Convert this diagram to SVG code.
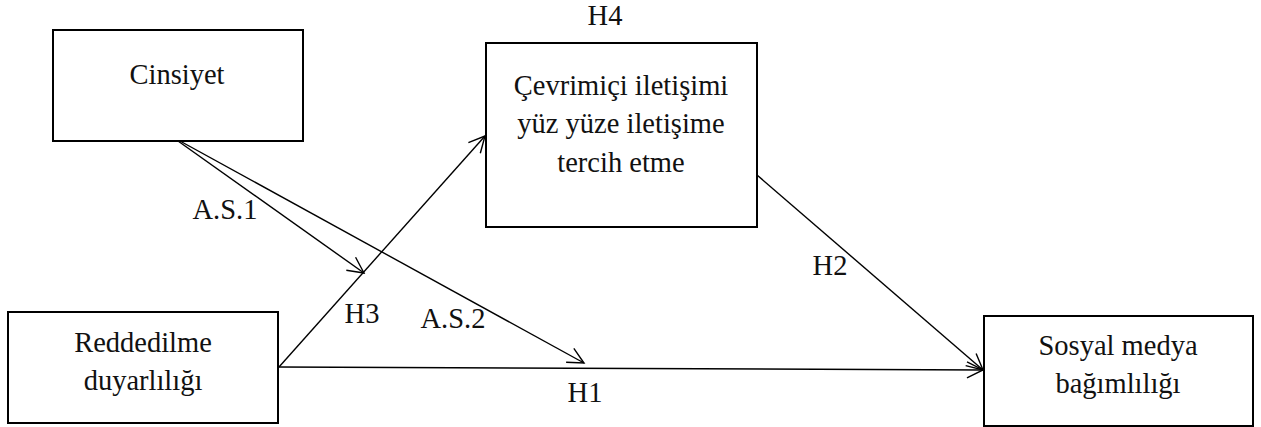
<svg xmlns="http://www.w3.org/2000/svg" width="1261" height="427" viewBox="0 0 1261 427">
  <defs>
    <style>
      .box { fill: #fff; stroke: #000; stroke-width: 2; }
      .t { font-size: 28.5px; fill: #111; text-anchor: middle; }
      .edge { fill: none; stroke: #000; stroke-width: 1.4; marker-end: url(#arr); }
    </style>
    <marker id="arr" viewBox="-18 -10 20 20" refX="0" refY="0" markerWidth="20" markerHeight="20" orient="auto" markerUnits="userSpaceOnUse">
      <path d="M-16,-8 L0,0 L-16,8" fill="none" stroke="#000" stroke-width="1.4"/>
    </marker>
  </defs>
  <rect width="1261" height="427" fill="#fff"/>

  <g id="connectors">
    <line class="edge" x1="279" y1="367" x2="485" y2="136"/>
    <line class="edge" x1="279" y1="367" x2="983" y2="370"/>
    <line class="edge" x1="757" y1="175" x2="983" y2="370"/>
    <line class="edge" x1="178" y1="141" x2="364" y2="273"/>
    <line class="edge" x1="180" y1="141" x2="584" y2="363"/>
  </g>

  <g font-family="'Liberation Serif', serif">
  <g id="labels">
    <text class="t" x="605" y="25">H4</text>
    <text class="t" x="225" y="219">A.S.1</text>
    <text class="t" x="362" y="323">H3</text>
    <text class="t" x="453" y="328">A.S.2</text>
    <text class="t" x="585" y="402">H1</text>
    <text class="t" x="830" y="275">H2</text>
  </g>

  <g id="node-cinsiyet">
    <rect class="box" x="53" y="30" width="250" height="111"/>
    <text class="t" x="177" y="84">Cinsiyet</text>
  </g>

  <g id="node-cevrimici">
    <rect class="box" x="486" y="43" width="271" height="184"/>
    <text class="t" x="621" y="95">Çevrimiçi iletişimi</text>
    <text class="t" x="621" y="133">yüz yüze iletişime</text>
    <text class="t" x="621" y="172">tercih etme</text>
  </g>

  <g id="node-reddedilme">
    <rect class="box" x="8" y="312" width="270" height="111"/>
    <text class="t" x="143" y="352">Reddedilme</text>
    <text class="t" x="143" y="390">duyarlılığı</text>
  </g>

  <g id="node-sosyal">
    <rect class="box" x="984" y="316" width="269" height="110"/>
    <text class="t" x="1118" y="355">Sosyal medya</text>
    <text class="t" x="1118" y="393">bağımlılığı</text>
  </g>
  </g>
</svg>
